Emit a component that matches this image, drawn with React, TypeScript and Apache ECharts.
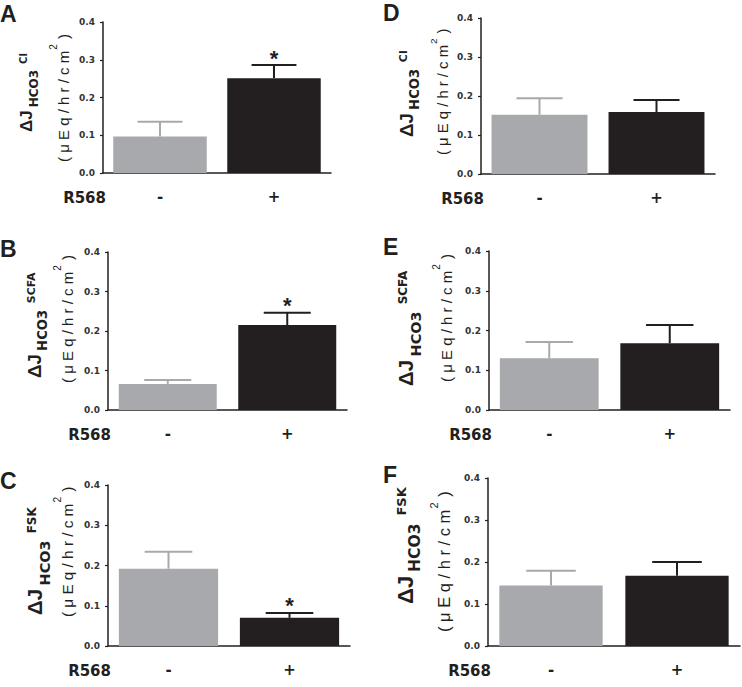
import React, { useEffect, useRef } from "react";
import * as echarts from "echarts";

// ---- data ----
const categories = ["-", "+"];
const yTicks = [0, 0.1, 0.2, 0.3, 0.4];
const panelLetters = ["A", "B", "C", "D", "E", "F"];
const superscripts = ["Cl", "SCFA", "FSK", "Cl", "SCFA", "FSK"];
const xAxisTitle = "R568";

const meansA = [0.097, 0.251];
const semsA = [0.039, 0.035];
const sigA = [0, 1];

const meansB = [0.066, 0.215];
const semsB = [0.01, 0.031];
const sigB = [0, 1];

const meansC = [0.192, 0.07];
const semsC = [0.042, 0.012];
const sigC = [0, 1];

const meansD = [0.152, 0.159];
const semsD = [0.042, 0.031];
const sigD = [0, 0];

const meansE = [0.13, 0.168];
const semsE = [0.041, 0.046];
const sigE = [0, 0];

const meansF = [0.144, 0.167];
const semsF = [0.035, 0.033];
const sigF = [0, 0];

const allMeans = [meansA, meansB, meansC, meansD, meansE, meansF];
const allSems = [semsA, semsB, semsC, semsD, semsE, semsF];
const allSig = [sigA, sigB, sigC, sigD, sigE, sigF];

// ---- layout / style ----
const INK = "#231f20";
const GRAY = "#a7a9ac";
const barColors = [GRAY, INK];
const SANS = "Liberation Sans";
const WIDE = "DejaVu Sans";

const layout = [
  { grid: { left: 103, top: 22, width: 228, height: 151 }, letter: [0, 13.5], l1: [26, 132], s1: 1, l2: [63, 162], s2: 1 },
  { grid: { left: 108, top: 252, width: 239, height: 158 }, letter: [0, 248.5], l1: [34, 378], s1: 1.1, l2: [67, 383], s2: 1 },
  { grid: { left: 108, top: 485, width: 242, height: 161 }, letter: [0, 481], l1: [35, 615], s1: 1.2, l2: [67, 617], s2: 1.02 },
  { grid: { left: 481, top: 18, width: 234, height: 156 }, letter: [383, 13], l1: [406, 137], s1: 1.1, l2: [443, 155], s2: 0.99 },
  { grid: { left: 489, top: 251, width: 241, height: 159 }, letter: [383, 246.5], l1: [406, 386], s1: 1.2, l2: [446, 382], s2: 1 },
  { grid: { left: 488, top: 478, width: 252, height: 168 }, letter: [383, 474.5], l1: [405, 604], s1: 1.3, l2: [444, 632], s2: 1.1 },
];

let measureCtx: CanvasRenderingContext2D | null = null;
function tw(text: string, size: number, weight: string, family: string) {
  if (!measureCtx) measureCtx = document.createElement("canvas").getContext("2d");
  if (!measureCtx) return text.length * size * 0.6;
  measureCtx.font = `${weight} ${size}px "${family}"`;
  return measureCtx.measureText(text).width;
}

function rotText(x: number, y: number, text: string, size: number, weight: string, family = SANS) {
  return {
    type: "text",
    x,
    y,
    rotation: Math.PI / 2,
    silent: true,
    style: {
      text,
      fontSize: size,
      fontWeight: weight,
      fontFamily: family,
      fill: INK,
      align: "left",
      verticalAlign: "middle",
    },
  };
}

function yLabel(l1: number[], s1: number, l2: number[], s2: number, sup: string) {
  const els: any[] = [];
  const fDJ = 17 * s1, fSub = 12 * s1, fSup = 10 * s1;
  const wDJ = tw("ΔJ", fDJ, "bold", SANS);
  const wSub = tw("HCO3", fSub, "bold", WIDE);
  const subStart = l1[1] - wDJ - 3 * s1;
  const supStart = subStart - wSub - 6 * s1;
  els.push(rotText(l1[0], l1[1], "ΔJ", fDJ, "bold"));
  els.push(rotText(l1[0] + 8 * s1, subStart, "HCO3", fSub, "bold", WIDE));
  els.push(rotText(l1[0] - 2.5 * s1, supStart, sup, fSup, "bold", WIDE));

  const f2 = 15 * s2, f2s = 10 * s2;
  const main = "( μ E q / h r / c m";
  const wMain = tw(main, f2, "normal", SANS);
  const twoStart = l2[1] - wMain - 1 * s2;
  const closeStart = twoStart - tw("2", f2s, "normal", SANS) - 1 * s2;
  els.push(rotText(l2[0], l2[1], main, f2, "normal"));
  els.push(rotText(l2[0] - 9.5 * s2, twoStart, "2", f2s, "normal"));
  els.push(rotText(l2[0], closeStart, " )", f2, "normal"));
  return els;
}

export default function App() {
  const ref = useRef<HTMLDivElement>(null);
  useEffect(() => {
    if (!ref.current) return;
    const chart = echarts.init(ref.current, null, { renderer: "svg" });

    const grids: any[] = [];
    const xAxes: any[] = [];
    const yAxes: any[] = [];
    const series: any[] = [];
    const graphics: any[] = [];

    layout.forEach((L, i) => {
      grids.push({ ...L.grid, containLabel: false });
      xAxes.push({
        gridIndex: i,
        type: "category",
        data: categories,
        axisLine: { lineStyle: { color: INK, width: 1.5 } },
        axisTick: { show: false },
        axisLabel: { color: INK, fontSize: 15, fontWeight: "bold", fontFamily: WIDE, margin: 16 },
      });
      yAxes.push({
        gridIndex: i,
        type: "value",
        min: yTicks[0],
        max: yTicks[yTicks.length - 1],
        interval: yTicks[1] - yTicks[0],
        axisLine: { show: true, lineStyle: { color: INK, width: 1.5 } },
        axisTick: { show: true, length: 3, lineStyle: { color: INK, width: 1.2 } },
        splitLine: { show: false },
        axisLabel: {
          color: "#333",
          fontSize: 9,
          fontWeight: "bold",
          fontFamily: WIDE,
          margin: 8,
          formatter: (v: number) => v.toFixed(1),
        },
      });
      series.push({
        type: "bar",
        xAxisIndex: i,
        yAxisIndex: i,
        barWidth: "82%",
        silent: true,
        data: allMeans[i].map((v, j) => ({ value: v, itemStyle: { color: barColors[j] } })),
      });
      series.push({
        type: "custom",
        xAxisIndex: i,
        yAxisIndex: i,
        silent: true,
        z: 5,
        encode: { x: 0, y: 1 },
        data: allMeans[i].map((m, j) => [j, m, allSems[i][j], allSig[i][j]]),
        renderItem: (params: any, api: any) => {
          const x = api.value(0);
          const m = api.value(1);
          const e = api.value(2);
          const s = api.value(3);
          const color = barColors[params.dataIndex];
          const p0 = api.coord([x, m]);
          const p1 = api.coord([x, m + e]);
          const band = api.size([1, 0])[0];
          const cap = band * 0.82 * 0.24;
          const children: any[] = [
            { type: "line", shape: { x1: p0[0], y1: p0[1], x2: p1[0], y2: p1[1] }, style: { stroke: color, lineWidth: 2 } },
            { type: "line", shape: { x1: p1[0] - cap, y1: p1[1], x2: p1[0] + cap, y2: p1[1] }, style: { stroke: color, lineWidth: 2 } },
          ];
          if (s) {
            children.push({
              type: "text",
              x: p1[0],
              y: p1[1] - 7,
              style: { text: "*", fontSize: 22, fontWeight: "bold", fontFamily: SANS, fill: INK, align: "center", verticalAlign: "middle" },
            });
          }
          return { type: "group", children };
        },
      });

      graphics.push({
        type: "text",
        x: L.letter[0],
        y: L.letter[1],
        silent: true,
        style: { text: panelLetters[i], fontSize: 23, fontWeight: "bold", fontFamily: SANS, fill: INK, align: "left", verticalAlign: "middle" },
      });
      graphics.push({
        type: "text",
        x: L.grid.left + 3,
        y: L.grid.top + L.grid.height + 25,
        silent: true,
        style: { text: xAxisTitle, fontSize: 15, fontWeight: "bold", fontFamily: WIDE, fill: INK, align: "right", verticalAlign: "middle" },
      });
      yLabel(L.l1, L.s1, L.l2, L.s2, superscripts[i]).forEach((g) => graphics.push(g));
    });

    chart.setOption({
      animation: false,
      backgroundColor: "#ffffff",
      textStyle: { fontFamily: SANS },
      grid: grids,
      xAxis: xAxes,
      yAxis: yAxes,
      series,
      graphic: graphics,
    });
    return () => chart.dispose();
  }, []);

  return (
    <div
      ref={ref}
      style={{ position: "fixed", left: 0, top: 0, width: 742, height: 687, background: "#fff" }}
    />
  );
}
